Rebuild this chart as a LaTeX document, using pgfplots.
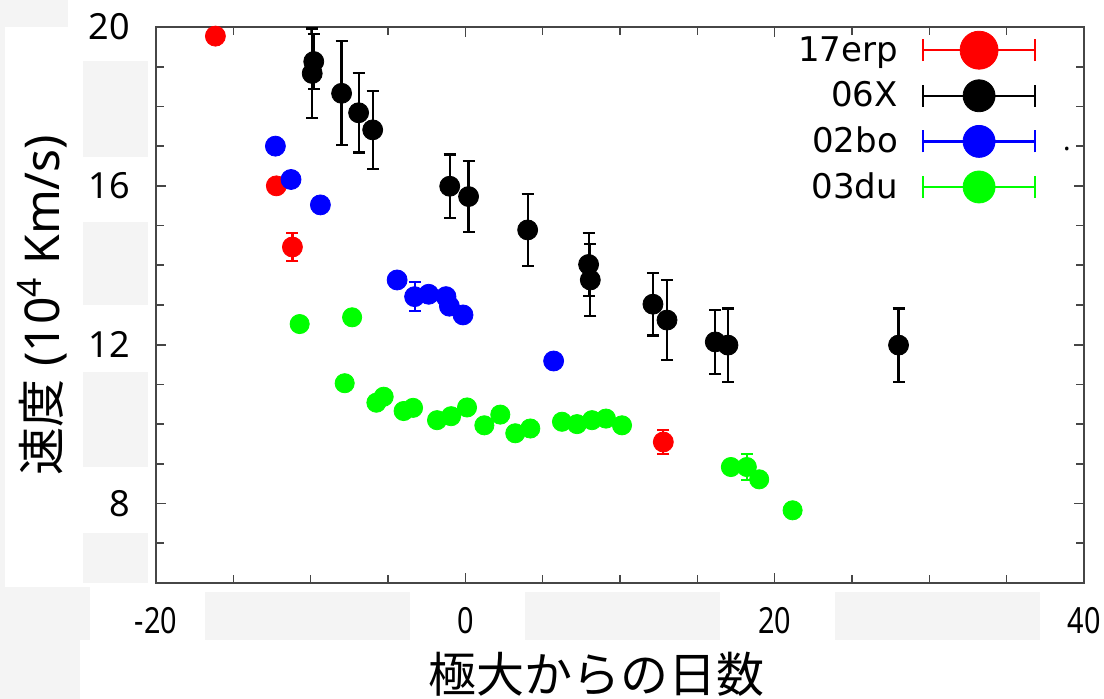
\documentclass[border=0pt]{standalone}
\usepackage{fontspec}
\setmainfont{Noto Sans}
\newfontfamily\cjk{Noto Sans CJK JP}
\newfontfamily\legfont{DejaVu Sans}
\usepackage{pgfplots}
\usepackage{pgfplotstable}
\pgfplotsset{compat=1.18}
\definecolor{pgreen}{RGB}{0,255,0}
\definecolor{pred}{RGB}{255,0,0}
\definecolor{pblue}{RGB}{0,0,255}
\definecolor{framegray}{RGB}{70,70,70}
\definecolor{noise}{RGB}{244,244,244}

\pgfplotstableread{
x y e
-16.16 19.77 0
-12.22 16.00 0
-11.18 14.46 0.35
12.80 9.55 0.30
}\erp

\pgfplotstableread{
x y e
-9.80 19.13 0.70
-9.90 18.83 1.13
-8.00 18.33 1.31
-6.90 17.84 1.00
-5.99 17.41 0.98
-1.01 15.99 0.80
0.21 15.73 0.90
4.03 14.89 0.90
7.97 14.02 0.80
8.08 13.63 0.90
12.13 13.02 0.79
13.04 12.62 1.00
16.16 12.07 0.81
16.98 11.99 0.92
28.01 11.99 0.92
}\sixx

\pgfplotstableread{
x y e
-12.28 17.00 0
-11.27 16.16 0
-9.37 15.52 0
-4.41 13.63 0
-3.28 13.21 0.37
-2.37 13.27 0
-1.25 13.21 0
-1.03 12.97 0
-0.15 12.75 0
5.71 11.59 0
}\bo

\pgfplotstableread{
x y e
-10.71 12.52 0
-7.32 12.69 0
-7.80 11.03 0
-5.75 10.54 0
-5.28 10.69 0
-3.99 10.33 0
-3.38 10.41 0
-1.83 10.10 0
-0.92 10.20 0
0.11 10.42 0
1.23 9.97 0
2.26 10.24 0
3.23 9.77 0
4.20 9.89 0
6.25 10.06 0
7.22 10.00 0
8.19 10.10 0
9.09 10.14 0
10.13 9.97 0
17.17 8.92 0
18.20 8.92 0.33
19.00 8.61 0
21.16 7.83 0
}\du

\begin{document}
\begin{tikzpicture}
\path[use as bounding box] (-78pt,-58pt) rectangle (474pt,291.5pt);
% faint background noise patches
\begin{scope}[x=0.5pt,y=-0.5pt,shift={(-78pt,291.5pt)}]
\fill[noise] (205,592) rectangle (410,640);
\fill[noise] (525,592) rectangle (720,640);
\fill[noise] (835,592) rectangle (1040,640);
\fill[noise] (83,61) rectangle (148,157);
\fill[noise] (83,222) rectangle (148,305);
\fill[noise] (83,372) rectangle (148,467);
\fill[noise] (83,533) rectangle (148,583);
\fill[noise] (0,587) rectangle (90,640);
\fill[noise] (0,640) rectangle (80,699);
\fill[noise] (0,0) rectangle (68,27);
\fill[noise] (0,27) rectangle (5,587);
\end{scope}
\begin{axis}[
  at={(0pt,0pt)}, anchor=south west,
  scale only axis, width=464pt, height=278pt,
  xmin=-20, xmax=40, ymin=6, ymax=20,
  xtick={-20,0,20,40}, xticklabels={-20,0,20,40},
  minor xtick={-15,-10,-5,5,10,15,25,30,35},
  ytick={8,12,16,20}, yticklabels={8,12,16,20},
  minor ytick={7,9,10,11,13,14,15,17,18,19},
  tick align=inside,
  major tick length=5pt, minor tick length=4pt,
  axis line style={framegray, line width=1pt},
  tick style={framegray, line width=0.8pt},
  yticklabel style={font=\fontsize{18}{18}\selectfont, xshift=-9.5pt},
  xticklabel style={font=\fontsize{18}{18}\selectfont, xscale=0.8, yshift=-8.5pt},
  xlabel={{\cjk 極大からの日数}},
  ylabel={{\cjk 速度} (10\textsuperscript{4} Km/s)},
  xlabel style={at={(axis description cs:0.475,-0.165)}, anchor=center, font=\fontsize{24}{24}\selectfont},
  ylabel style={at={(axis description cs:-0.123,0.5)}, rotate=0, anchor=center, font=\fontsize{24}{24}\selectfont},
  legend style={draw=none, fill=none, inner sep=0pt, at={(axis description cs:0.949,1.0)}, anchor=north east,
    font=\legfont\fontsize{17}{17}\selectfont, row sep=0pt,
    nodes={inner sep=1pt},
    /tikz/every odd column/.append style={column sep=11pt}},
  legend plot pos=right,
  legend cell align=right,
  clip=false,
]
\addplot[only marks, mark=*, mark size=5pt, color=pred,
  legend image code/.code={
    \path[draw=none, fill=none] (0pt,-11.4pt) rectangle (56pt,11.4pt);
    \draw[pred, line width=1.2pt] (0pt,0pt) -- (56pt,0pt);
    \draw[pred, line width=1.2pt] (0pt,-5.5pt) -- (0pt,5.5pt);
    \draw[pred, line width=1.2pt] (56pt,-5.5pt) -- (56pt,5.5pt);
    \fill[pred] (28pt,0pt) circle (9.5pt);},
  error bars/.cd, y dir=both, y explicit,
  error bar style={line width=1.1pt},
  error mark options={rotate=90, mark size=3pt, line width=1.1pt}]
  table[x=x, y=y, y error=e]{\erp};
\addlegendentry{17erp}
\addplot[only marks, mark=*, mark size=5pt, color=black,
  legend image code/.code={
    \path[draw=none, fill=none] (0pt,-11.4pt) rectangle (56pt,11.4pt);
    \draw[black, line width=1.2pt] (0pt,0pt) -- (56pt,0pt);
    \draw[black, line width=1.2pt] (0pt,-5.5pt) -- (0pt,5.5pt);
    \draw[black, line width=1.2pt] (56pt,-5.5pt) -- (56pt,5.5pt);
    \fill[black] (28pt,0pt) circle (8pt);},
  error bars/.cd, y dir=both, y explicit,
  error bar style={line width=1.1pt},
  error mark options={rotate=90, mark size=3pt, line width=1.1pt}]
  table[x=x, y=y, y error=e]{\sixx};
\addlegendentry{06X}
\addplot[only marks, mark=*, mark size=5pt, color=pblue,
  legend image code/.code={
    \path[draw=none, fill=none] (0pt,-11.4pt) rectangle (56pt,11.4pt);
    \draw[pblue, line width=1.2pt] (0pt,0pt) -- (56pt,0pt);
    \draw[pblue, line width=1.2pt] (0pt,-5.5pt) -- (0pt,5.5pt);
    \draw[pblue, line width=1.2pt] (56pt,-5.5pt) -- (56pt,5.5pt);
    \fill[pblue] (28pt,0pt) circle (8pt);},
  error bars/.cd, y dir=both, y explicit,
  error bar style={line width=1.1pt},
  error mark options={rotate=90, mark size=3pt, line width=1.1pt}]
  table[x=x, y=y, y error=e]{\bo};
\addlegendentry{02bo}
\addplot[only marks, mark=*, mark size=4.8pt, color=pgreen,
  legend image code/.code={
    \path[draw=none, fill=none] (0pt,-11.4pt) rectangle (56pt,11.4pt);
    \draw[pgreen, line width=1.2pt] (0pt,0pt) -- (56pt,0pt);
    \draw[pgreen, line width=1.2pt] (0pt,-5.5pt) -- (0pt,5.5pt);
    \draw[pgreen, line width=1.2pt] (56pt,-5.5pt) -- (56pt,5.5pt);
    \fill[pgreen] (28pt,0pt) circle (8pt);},
  error bars/.cd, y dir=both, y explicit,
  error bar style={line width=1.1pt},
  error mark options={rotate=90, mark size=3pt, line width=1.1pt}]
  table[x=x, y=y, y error=e]{\du};
\addlegendentry{03du}
\node[font=\fontsize{14}{14}\selectfont] at (axis cs:38.9,16.93) {.};
\end{axis}
\end{tikzpicture}
\end{document}
